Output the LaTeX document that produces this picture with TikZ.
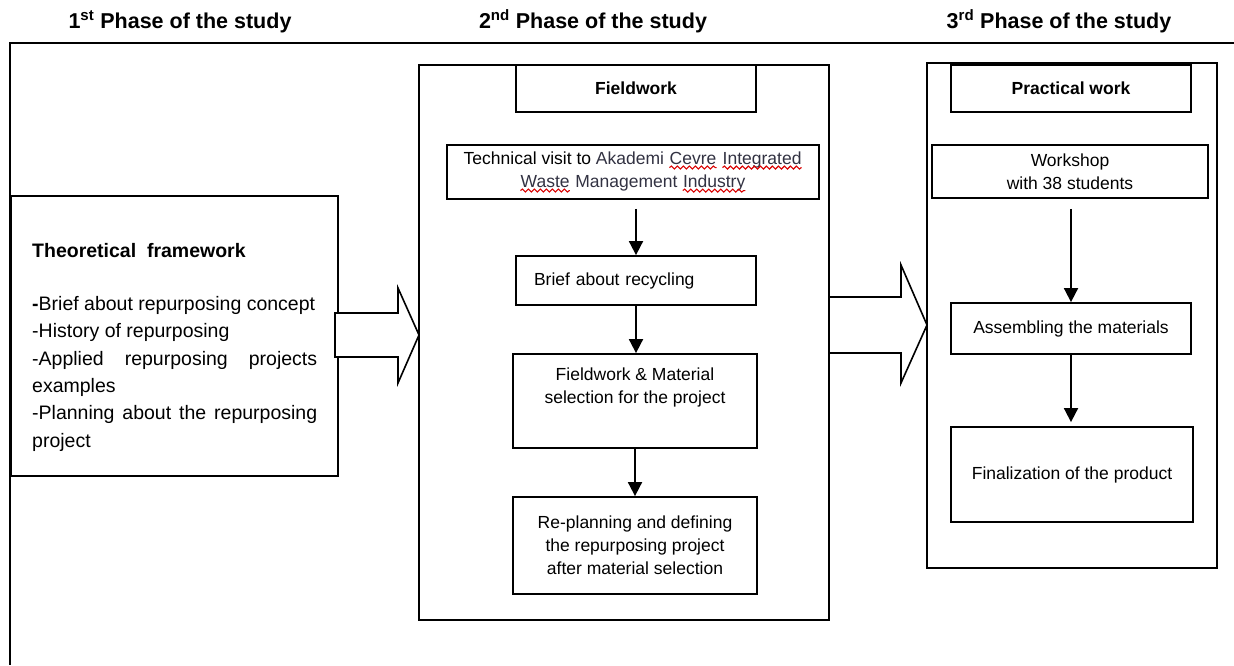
\documentclass[tikz,border=0pt]{standalone}
\usepackage{fontspec}
\setmainfont{Liberation Sans}
\usetikzlibrary{arrows.meta,decorations.pathmorphing}
\definecolor{akc}{RGB}{50,50,66}
\colorlet{spell}{red!85!black}
\newcommand{\setfs}[2]{\fontsize{#1}{#2}\selectfont}
\newcommand{\spellerr}[1]{\tikz[baseline=(w.base)]{%
    \node[draw=none, minimum width=0pt, minimum height=0pt, inner sep=0pt,
        text=akc] (w) {#1};
    \draw[spell, line width=1.1pt, decorate,
        decoration={snake, amplitude=1.5pt, segment length=6pt}]
        ([yshift=-3.5pt]w.base west) -- ([yshift=-3.5pt]w.base east);}}

\begin{document}
\begin{tikzpicture}[x=1pt,y=-1pt,
    box/.style={draw, line width=1.8pt, inner sep=0pt, align=center,
        font=\setfs{17.5}{23}},
    phase/.style={draw, line width=1.8pt, inner sep=0pt},
    ttl/.style={anchor=base, font=\bfseries\setfs{21.5}{26}},
    flow/.style={line width=1.8pt, -{Triangle[width=14pt,length=14pt]}},
    hollow/.style={draw, fill=white, line width=1.6pt, line join=miter}
]
    \useasboundingbox (0,0) rectangle (1234,665);

    % phase titles
    \node[ttl] (t1) at (180,28) {1\textsuperscript{st} Phase of the study};
    \node[ttl] (t2) at (593,28) {2\textsuperscript{nd} Phase of the study};
    \node[ttl] (t3) at (1059,28) {3\textsuperscript{rd} Phase of the study};
    \draw[line width=1.8pt] (1234,43) -- (10,43) -- (10,665);

    % 1st phase
    \node[phase, minimum width=327pt, minimum height=280pt] (tf) at (174.5,336) {};
    \node[anchor=north west, inner sep=0pt, text width=285pt, align=justify,
        font=\setfs{19.5}{27.4}] (tftxt) at (32,243)
        {\textbf{Theoretical\ \ framework}\\[25.6pt]
         \textbf{-}Brief about repurposing concept\\
         -History of repurposing\\
         -Applied repurposing projects\linebreak\mbox{examples}\\
         -Planning about the repurposing\linebreak\mbox{project}};

    % 2nd phase
    \node[phase, minimum width=410pt, minimum height=555pt] (ph2) at (624,342.5) {};
    \node[box, minimum width=240pt, minimum height=47pt, font=\bfseries\setfs{17.5}{23}]
        (fw) at (636,88.5) {Fieldwork};
    \node[box, minimum width=372pt, minimum height=54pt] (tv) at (633,172)
        {Technical visit to {\color{akc}Akademi} \spellerr{Cevre} \spellerr{Integrated}\\
         \spellerr{Waste} {\color{akc}Management} \spellerr{Industry}};
    \node[box, minimum width=240pt, minimum height=49pt, text width=204pt,
        inner xsep=18pt, align=left] (br) at (636,280.5) {Brief about recycling};
    \node[box, minimum width=244pt, minimum height=94pt] (fm) at (635,401)
        {Fieldwork \& Material\\selection for the project\\[8.5pt]\mbox{}};
    \node[box, minimum width=244pt, minimum height=97pt] (rp) at (635,545.5)
        {Re-planning and defining\\the repurposing project\\after material selection};

    \draw[flow, shorten <=9pt] (br.north |- tv.south) -- (br.north);
    \draw[flow] (br.south) -- (br.south |- fm.north);
    \draw[flow] (fm.south) -- (rp.north);

    % 3rd phase
    \node[phase, minimum width=290pt, minimum height=505pt] (ph3) at (1072,315.5) {};
    \node[box, minimum width=240pt, minimum height=47pt, font=\bfseries\setfs{17.5}{23}]
        (pw) at (1071,88.5) {Practical work};
    \node[box, minimum width=276pt, minimum height=53pt] (ws) at (1070,171.5)
        {Workshop\\with 38 students};
    \node[box, minimum width=240pt, minimum height=51pt] (am) at (1071,328.5)
        {Assembling the materials};
    \node[box, minimum width=242pt, minimum height=95pt] (fp) at (1072,474.5)
        {Finalization of the product};

    \draw[flow, shorten <=10pt] (am.north |- ws.south) -- (am.north);
    \draw[flow, shorten >=4pt] (am.south) -- (am.south |- fp.north);

    % hollow arrows between phases
    \draw[hollow] (335,313) -- (398,313) -- (398,288) -- (419,335)
        -- (398,383) -- (398,357) -- (335,357) -- cycle;
    \draw[hollow] (829,297) -- (901,297) -- (901,265) -- (927,325)
        -- (901,383) -- (901,353) -- (829,353) -- cycle;
\end{tikzpicture}
\end{document}
